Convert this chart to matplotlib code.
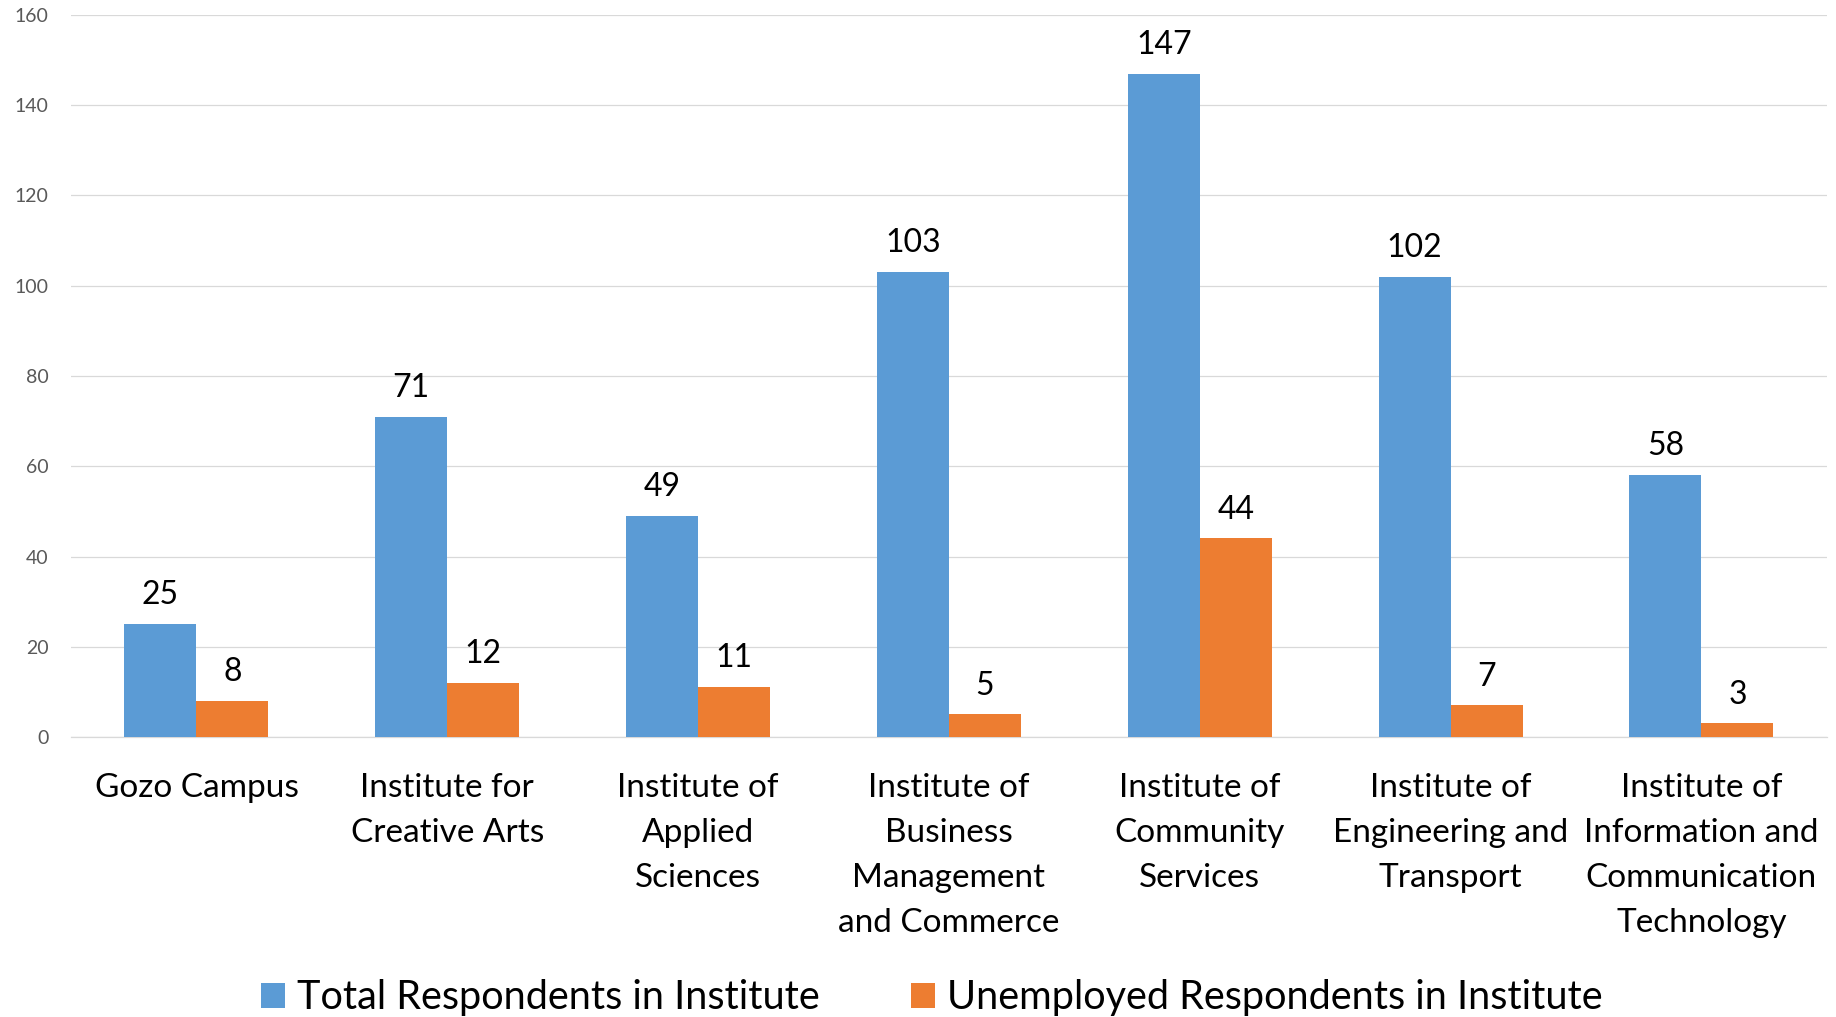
import numpy as np
import matplotlib.pyplot as plt

plt.rcParams['font.family'] = ['Lato', 'DejaVu Sans']

# 数据
institutes = ['Gozo Campus',
              'Institute for\nCreative Arts',
              'Institute of\nApplied\nSciences',
              'Institute of\nBusiness\nManagement\nand Commerce',
              'Institute of\nCommunity\nServices',
              'Institute of\nEngineering and\nTransport',
              'Institute of\nInformation and\nCommunication\nTechnology']
total_respondents = [25, 71, 49, 103, 147, 102, 58]
unemployed_respondents = [8, 12, 11, 5, 44, 7, 3]
y_ticks = [0, 20, 40, 60, 80, 100, 120, 140, 160]

blue = '#5B9BD5'
orange = '#ED7D31'

fig = plt.figure(figsize=(18.36, 10.17), dpi=100)
ax = fig.add_axes([0.0387, 0.2753, 0.9563, 0.71])

x = np.arange(len(institutes))
w = 0.287

b1 = ax.bar(x - w / 2, total_respondents, w, color=blue, label='Total Respondents in Institute', zorder=3)
b2 = ax.bar(x + w / 2, unemployed_respondents, w, color=orange, label='Unemployed Respondents in Institute', zorder=3)

# 数值标签
ax.bar_label(b1, padding=10, fontsize=23, color='black')
ax.bar_label(b2, padding=10, fontsize=23, color='black')

ax.set_xlim(-0.5, len(institutes) - 0.5)
ax.set_ylim(0, 160)
ax.set_yticks(y_ticks)
ax.set_xticks(x)
ax.set_xticklabels(institutes, fontsize=24, linespacing=1.63)
ax.tick_params(axis='x', length=0, pad=26)
ax.tick_params(axis='y', length=0, pad=16, labelsize=14, labelcolor='#595959')

ax.grid(axis='y', color='#D9D9D9', linewidth=0.9, zorder=0)
for s in ['top', 'right', 'left']:
    ax.spines[s].set_visible(False)
ax.spines['bottom'].set_color('#D9D9D9')
ax.spines['bottom'].set_linewidth(0.9)

fig.legend(loc='center', bbox_to_anchor=(932 / 1836, 0.019), ncol=2, frameon=False,
           fontsize=28.5, handlelength=0.6, handleheight=0.6, handletextpad=0.3,
           columnspacing=2.32, borderaxespad=0)

fig.savefig('out.png', dpi=100)
